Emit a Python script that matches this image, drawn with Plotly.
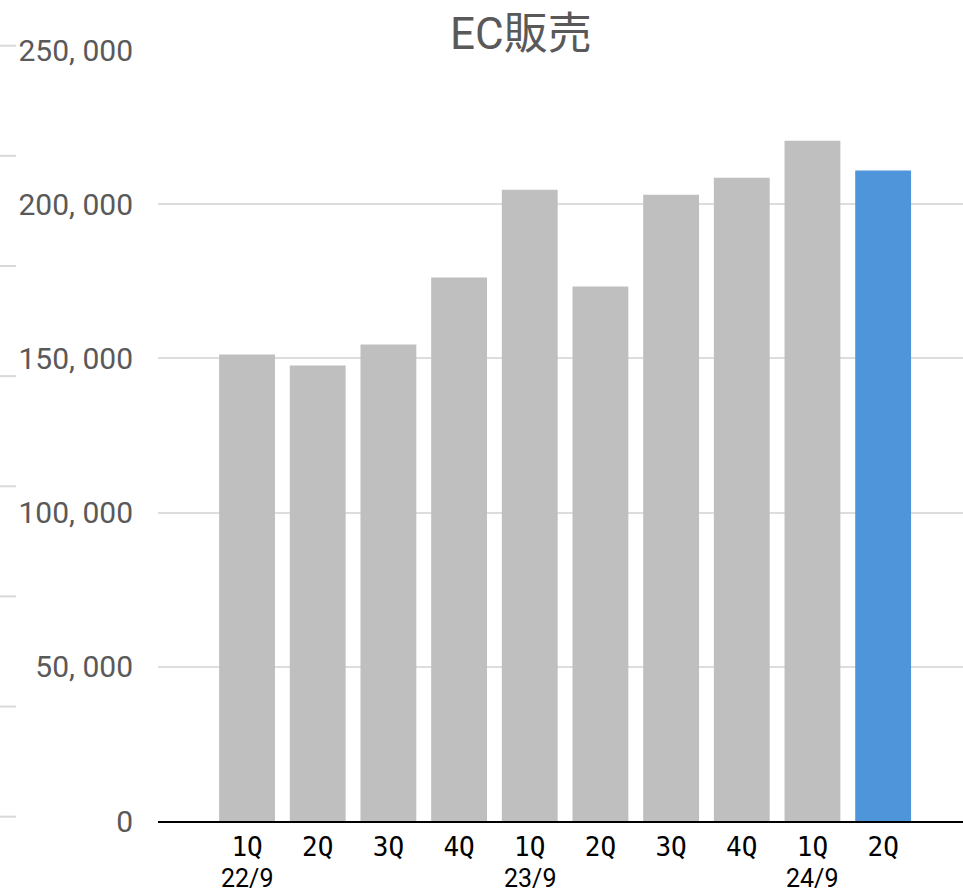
import plotly.graph_objects as go

# Quarterly EC sales
quarters = ["1Q", "2Q", "3Q", "4Q", "1Q", "2Q", "3Q", "4Q", "1Q", "2Q"]
fiscal_years = ["22/9", "", "", "", "23/9", "", "", "", "24/9", ""]
sales = [151300, 147700, 154500, 176200, 204700, 173300, 203100, 208600, 220600, 210900]
bar_colors = ["#BFBFBF"] * 9 + ["#4E95D9"]

y_ticks = [0, 50000, 100000, 150000, 200000, 250000]
y_tick_text = ["0", "50, 000", "100, 000", "150, 000", "200, 000", "250, 000"]

NARROW = "Roboto, Noto Sans CJK JP, sans-serif"
MONO = "DejaVu Sans Mono, Liberation Mono, monospace"
GRAY = "#595959"

W, H = 963, 893
M_L, M_R, M_T, M_B = 158, 0, 50, 72
plot_w = W - M_L - M_R
plot_h = H - M_T - M_B

x_idx = list(range(len(quarters)))

fig = go.Figure(
    go.Bar(
        x=x_idx,
        y=sales,
        marker=dict(color=bar_colors, line=dict(width=0)),
        width=0.79,
        hoverinfo="y",
    )
)

fig.update_layout(
    width=W,
    height=H,
    margin=dict(l=M_L, r=M_R, t=M_T, b=M_B, pad=0, autoexpand=False),
    paper_bgcolor="white",
    plot_bgcolor="white",
    showlegend=False,
    xaxis=dict(
        range=[-1.26, 10.13],
        tickmode="array",
        tickvals=x_idx,
        ticktext=quarters,
        tickfont=dict(family=MONO, size=26, color="black"),
        showgrid=False,
        zeroline=False,
        showline=True,
        linecolor="black",
        linewidth=2,
        ticks="",
        ticklabelstandoff=2,
        automargin=False,
        fixedrange=True,
    ),
    yaxis=dict(
        range=[0, 250000],
        tickmode="array",
        tickvals=y_ticks,
        ticktext=y_tick_text,
        tickfont=dict(family=NARROW, size=30, color=GRAY),
        showgrid=True,
        gridcolor="#DDDDDD",
        gridwidth=2,
        zeroline=False,
        showline=False,
        ticks="",
        ticklabelstandoff=24,
        automargin=False,
        fixedrange=True,
    ),
)

# Fiscal-year labels under the first quarter of each year
for i, fy in enumerate(fiscal_years):
    if fy:
        fig.add_annotation(
            x=i, xref="x",
            y=-57 / plot_h, yref="paper",
            yanchor="middle",
            text=fy,
            showarrow=False,
            font=dict(family=NARROW, size=25, color="black"),
        )

# Title with a white backing so the top gridline stops at its edges
fig.add_annotation(
    x=(521 - M_L) / plot_w, xref="paper",
    y=(H - M_B - 34) / plot_h, yref="paper",
    xanchor="center", yanchor="middle",
    text="EC販売",
    showarrow=False,
    bgcolor="white",
    borderpad=0,
    font=dict(family=NARROW, size=44, color=GRAY),
)

# Short tick marks along the left edge of the canvas
edge_tick_px = [45.7 + 110.14 * k for k in range(8)]
for py in edge_tick_px:
    yp = (H - M_B - py) / plot_h
    fig.add_shape(
        type="line", xref="paper", yref="paper",
        x0=-M_L / plot_w, x1=(16 - M_L) / plot_w,
        y0=yp, y1=yp,
        line=dict(color="#D9D9D9", width=2),
    )

fig.write_html("out.html")
